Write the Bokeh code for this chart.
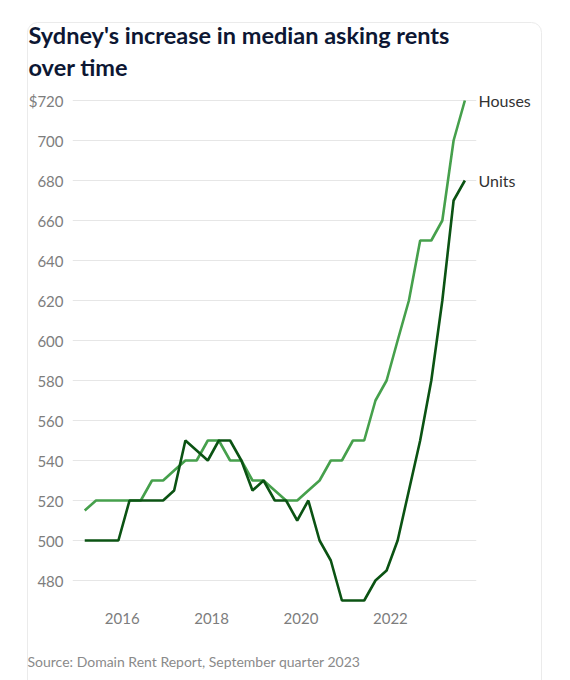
import pandas as pd
from bokeh.plotting import figure
from bokeh.models import Range1d, FixedTicker, LinearAxis, Title
from bokeh.embed import file_html
from bokeh.resources import INLINE

# ---- data ----
quarters = pd.date_range("2015-03-01", "2023-09-01", freq="3MS").strftime("%Y-%m-%d").tolist()
houses = [515, 520, 520, 520, 520, 520, 530, 530, 535, 540, 540, 550, 550, 540, 540, 530, 530, 525,
          520, 520, 525, 530, 540, 540, 550, 550, 570, 580, 600, 620, 650, 650, 660, 700, 720]
units = [500, 500, 500, 500, 520, 520, 520, 520, 525, 550, 545, 540, 550, 550, 540, 525, 530, 520,
         520, 510, 520, 500, 490, 470, 470, 470, 480, 485, 500, 525, 550, 580, 620, 670, 680]
series_names = ["Houses", "Units"]
x_ticks = [2016, 2018, 2020, 2022]
y_ticks = [480, 500, 520, 540, 560, 580, 600, 620, 640, 660, 680, 700, 720]
title_lines = ["Sydney's increase in median asking rents", "over time"]
source_text = "Source: Domain Rent Report, September quarter 2023"


def dec_year(s):
    d = pd.Timestamp(s)
    days = 366 if d.is_leap_year else 365
    return d.year + (d.dayofyear - 1) / days


xs = [dec_year(q) for q in quarters]

FONT = "Lato"
TOP = 17
W, H = 570, 680 - TOP

card_svg = ("url(\"data:image/svg+xml;utf8,<svg xmlns='http://www.w3.org/2000/svg' "
            "width='570' height='663'><rect x='27.5' y='5.5' width='514' height='720' "
            "rx='10' ry='10' fill='none' stroke='%23ebebeb' stroke-width='1'/></svg>\")")

p = figure(width=W, height=H, output_backend="svg", toolbar_location=None,
           x_range=Range1d(2014.888, 2023.926), y_range=Range1d(468, 729.5),
           min_border_left=72, min_border_right=94, min_border_top=0, min_border_bottom=76,
           margin=(TOP, 0, 0, 0),
           styles={"background-image": card_svg, "background-repeat": "no-repeat"})
p.outline_line_color = None
p.background_fill_color = None
p.border_fill_color = None

# grid
p.xgrid.grid_line_color = None
p.ygrid.grid_line_color = "#e6e6e6"
p.ygrid.grid_line_width = 1

# axes
p.yaxis.ticker = FixedTicker(ticks=y_ticks)
p.yaxis.major_label_overrides = {720: "$720"}
p.xaxis.ticker = FixedTicker(ticks=x_ticks)
for ax in (p.xaxis[0], p.yaxis[0]):
    ax.axis_line_color = None
    ax.major_tick_line_color = None
    ax.minor_tick_line_color = None
    ax.major_tick_out = 0
    ax.major_tick_in = 0
    ax.minor_tick_out = 0
    ax.major_label_text_font = FONT
    ax.major_label_text_font_size = "15px"
    ax.major_label_text_color = "#7d7d7d"
p.yaxis.major_label_standoff = 9
p.xaxis.major_label_standoff = 8

# lines
p.line(xs, houses, line_color="#46a04c", line_width=2.6)
p.line(xs, units, line_color="#0b5313", line_width=2.6)

# end-of-line series names via a right-hand axis at the last values
end_axis = LinearAxis(ticker=FixedTicker(ticks=[houses[-1], units[-1]]),
                      major_label_overrides={houses[-1]: series_names[0], units[-1]: series_names[1]})
end_axis.axis_line_color = None
end_axis.major_tick_line_color = None
end_axis.minor_tick_line_color = None
end_axis.major_tick_out = 0
end_axis.major_tick_in = 0
end_axis.minor_tick_out = 0
end_axis.major_label_standoff = 2
end_axis.major_label_text_font = FONT
end_axis.major_label_text_font_size = "16px"
end_axis.major_label_text_color = "#333333"
p.add_layout(end_axis, "right")

# title (two lines; later-added sits higher)
for line in reversed(title_lines):
    p.add_layout(Title(text=line, align="left", offset=-44, text_font=FONT,
                       text_font_style="bold", text_font_size="23.5px",
                       text_color="#0d1733", standoff=2), "above")

# source (a thin spacer title pushes it down below the tick labels)
p.add_layout(Title(text=" ", text_font_size="1px", standoff=20), "below")
p.add_layout(Title(text=source_text, align="left", offset=-45, text_font=FONT,
                   text_font_style="normal", text_font_size="14px",
                   text_color="#8a8a8a", standoff=2), "below")

open("out.html", "w").write(file_html(p, INLINE))
